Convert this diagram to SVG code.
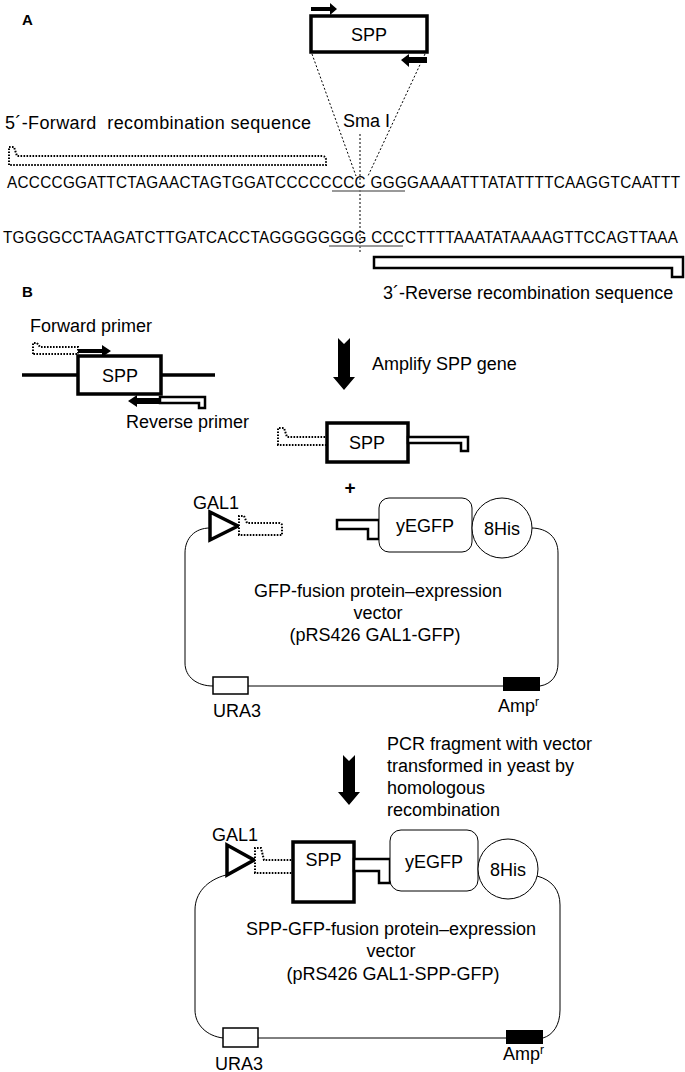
<svg xmlns="http://www.w3.org/2000/svg" width="685" height="1072" viewBox="0 0 685 1072">
<style>
text{font-family:"Liberation Sans",Arial,sans-serif;fill:#000}
.t{font-size:18px}
.seq{font-size:15.3px}
.lbl{font-size:15px;font-weight:bold}
.box{fill:#fff;stroke:#000;stroke-width:3.5}
.strip{fill:#fff;stroke:#000;stroke-width:2.5;stroke-linejoin:miter}
.dot{fill:#fff;stroke:#000;stroke-width:2;stroke-dasharray:1.6 1.4}
.thin{fill:none;stroke:#000;stroke-width:1}
.thinf{fill:#fff;stroke:#000;stroke-width:1}
.guide{fill:none;stroke:#000;stroke-width:1;stroke-dasharray:2 2}
.ul{stroke:#777;stroke-width:1.5}
.blk{fill:#000;stroke:none}
</style>
<rect width="685" height="1072" fill="#fff"/>

<!-- Panel A -->
<g id="labelA"><text class="lbl" x="22" y="25">A</text></g>
<g id="sppA">
  <rect class="box" x="311" y="16" width="116" height="36"/>
  <text class="t" x="369" y="41" text-anchor="middle">SPP</text>
  <path class="blk" d="M311,7 H330 V3 L337,9 L330,15 V11 H311 Z"/>
  <path class="blk" d="M427,57 H409 V54 L401,60 L409,67 V63 H427 Z"/>
</g>
<g id="connectors">
  <line class="guide" x1="312" y1="54" x2="356" y2="176" stroke-dasharray="1.5 1.5"/>
  <line class="guide" x1="425" y1="54" x2="368" y2="176" stroke-dasharray="1.5 1.5"/>
  <line class="guide" x1="360" y1="134" x2="360" y2="254"/>
</g>
<g id="fwdRecomb">
  <text class="t" x="5" y="129" xml:space="preserve" textLength="306">5´-Forward  recombination sequence</text>
  <path class="dot" d="M9,165 V147 H14 L17,156 H322 Q326,156 326,160 V165 Z"/>
</g>
<g id="smaI"><text class="t" x="343" y="127">Sma I</text></g>
<g id="sequence">
  <g transform="translate(0,188) scale(1,1.08)">
    <text class="seq" x="7" y="0" textLength="673">ACCCCGGATTCTAGAACTAGTGGATCCCCCCCC GGGGAAAATTTATATTTTCAAGGTCAATTT</text>
  </g>
  <line class="ul" x1="332" y1="191" x2="405" y2="191"/>
  <g transform="translate(0,243) scale(1,1.08)">
    <text class="seq" x="3" y="0" textLength="675">TGGGGCCTAAGATCTTGATCACCTAGGGGGGGG CCCCTTTTAAATATAAAAGTTCCAGTTAAA</text>
  </g>
  <line class="ul" x1="329" y1="246" x2="403" y2="246"/>
</g>
<g id="revRecomb">
  <path class="strip" d="M374,257 H683 V277 H672 V268 H374 Z"/>
  <text class="t" x="383" y="299">3´-Reverse recombination sequence</text>
</g>

<!-- Panel B -->
<g id="labelB"><text class="lbl" x="22" y="297">B</text></g>
<g id="template">
  <text class="t" x="30" y="332">Forward primer</text>
  <line x1="22" y1="375" x2="78" y2="375" stroke="#000" stroke-width="3.5"/>
  <line x1="161" y1="375" x2="215" y2="375" stroke="#000" stroke-width="3.5"/>
  <rect class="box" x="78" y="356" width="83" height="38"/>
  <text class="t" x="120" y="382" text-anchor="middle">SPP</text>
  <path class="dot" d="M33,354 V343 H37 L40,347 H78 V354 Z"/>
  <path class="blk" d="M78,349 H102 V345 L111,351 L102,357 V353 H78 Z"/>
  <path class="blk" d="M160,398 H137 V395 L128,401 L137,407 V404 H160 Z"/>
  <path class="strip" stroke-width="2" d="M160,397 H205 V408 H199 V403 H160 Z"/>
  <text class="t" x="126" y="428">Reverse primer</text>
</g>
<g id="step1">
  <path class="blk" d="M338,338 L344,344 L350,338 V377 H355 L344,390 L333,377 H338 Z"/>
  <text class="t" x="372" y="370">Amplify SPP gene</text>
</g>
<g id="pcrProduct">
  <path class="dot" d="M278,445 V428 H284 L287,437 H327 V445 Z"/>
  <rect class="box" x="327" y="423" width="81" height="39"/>
  <text class="t" x="367" y="449" text-anchor="middle">SPP</text>
  <path class="strip" d="M408,437 H468 V451 H461 V443 H408 Z"/>
</g>
<g id="plus"><text x="350" y="494" text-anchor="middle" style="font-size:19px;font-weight:bold">+</text></g>

<g id="vector1">
  <path class="thin" d="M210,528 C195,528 185,538 185,553 V663 C185,677 197,686 213,686"/>
  <line class="thin" x1="248" y1="686" x2="503" y2="686"/>
  <path class="thin" d="M540,686 C552,684 558,675 558,663 V553 C558,538 548,528 531,528"/>
  <text class="t" x="193" y="509">GAL1</text>
  <path class="box" d="M210,512 L238,526 L210,540 Z"/>
  <path class="dot" d="M239,535 V516 H244 L247,523 H279 Q282,523 282,526 V535 Z"/>
  <path class="strip" d="M337,520 H379 V539 H368 V529 H337 Z"/>
  <rect class="thinf" x="379" y="498" width="93" height="54" rx="10"/>
  <text class="t" x="425" y="532" text-anchor="middle">yEGFP</text>
  <circle class="thinf" cx="502" cy="528" r="30"/>
  <text class="t" x="502" y="535" text-anchor="middle">8His</text>
  <text class="t" x="378" y="597" text-anchor="middle">GFP-fusion protein–expression</text>
  <text class="t" x="378" y="619" text-anchor="middle">vector</text>
  <text class="t" x="375" y="641" text-anchor="middle">(pRS426 GAL1-GFP)</text>
  <rect x="213" y="677" width="35" height="17" fill="#fff" stroke="#000" stroke-width="1.5"/>
  <rect x="503" y="677" width="37" height="14" fill="#000"/>
  <text class="t" x="213" y="717">URA3</text>
  <text class="t" x="498" y="712">Amp<tspan font-size="12" dy="-6">r</tspan></text>
</g>

<g id="step2">
  <path class="blk" d="M343,755 L349,761 L355,755 V792 H360 L349,805 L338,792 H343 Z"/>
  <text class="t" x="387" y="750">PCR fragment with vector</text>
  <text class="t" x="387" y="772">transformed in yeast by</text>
  <text class="t" x="387" y="794">homologous</text>
  <text class="t" x="387" y="816">recombination</text>
</g>

<g id="vector2">
  <path class="thin" d="M226,875 C207,880 195,893 195,910 V1010 C195,1025 207,1036 223,1038"/>
  <line class="thin" x1="258" y1="1038" x2="506" y2="1038"/>
  <path class="thin" d="M543,1038 C553,1035 560,1025 560,1010 V905 C560,890 552,880 537,876"/>
  <text class="t" x="212" y="841">GAL1</text>
  <path class="box" d="M227,845 L254,860 L227,875 Z"/>
  <path class="dot" d="M255,873 V848 H261 L264,860 H293 V873 Z"/>
  <rect class="box" x="293" y="842" width="61" height="60"/>
  <text class="t" x="323.5" y="866" text-anchor="middle">SPP</text>
  <path class="strip" stroke-width="3" d="M354,859 H390 V883 H379 V871 H354 Z"/>
  <rect class="thinf" x="390" y="830" width="88" height="61" rx="11"/>
  <text class="t" x="434" y="868" text-anchor="middle">yEGFP</text>
  <circle class="thinf" cx="508" cy="869" r="30"/>
  <text class="t" x="508" y="876" text-anchor="middle">8His</text>
  <text class="t" x="391" y="935" text-anchor="middle">SPP-GFP-fusion protein–expression</text>
  <text class="t" x="391" y="957" text-anchor="middle">vector</text>
  <text class="t" x="393" y="980" text-anchor="middle">(pRS426 GAL1-SPP-GFP)</text>
  <rect x="223" y="1028" width="35" height="19" fill="#fff" stroke="#000" stroke-width="1.5"/>
  <rect x="506" y="1030" width="37" height="14" fill="#000"/>
  <text class="t" x="215" y="1070">URA3</text>
  <text class="t" x="503" y="1060">Amp<tspan font-size="12" dy="-6">r</tspan></text>
</g>
</svg>
